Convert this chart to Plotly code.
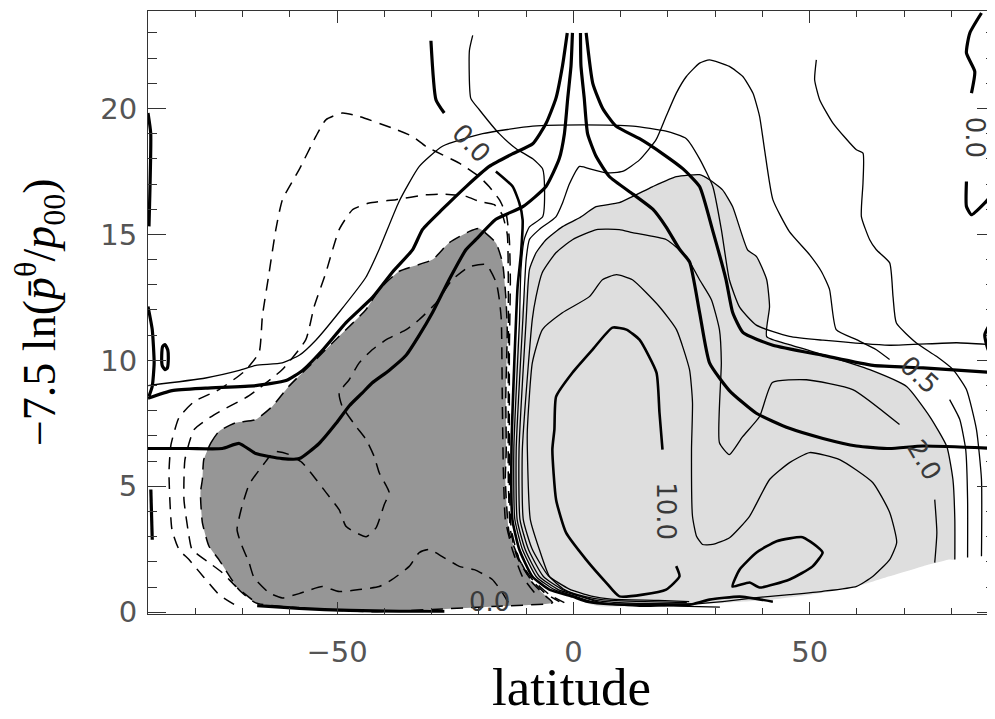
import plotly.graph_objects as go

# ---------------- data: latitude (deg) / height (-7.5 ln p/p00) --------
# light-gray shaded region (positive cell)
LG_LAT = [-9.3, -7.9, -5.8, -2.3, 1.3, 4.8, 9.7, 16.7, 21.8, 26.7, 28.8, 31.55, 33.7, 36.85, 38.75,
          40.9, 41.5, 40.9, 45.7, 54.2, 62.7, 70.5, 75.4, 79.0, 80.3, 80.7, 80.7, 79.6, 74.0, 66.9,
          59.9, 52.8, 42.2, 31.6, 24.6, 5.5, 2.7, -0.2, -3.7, -7.2, -10.8, -12.5, -12.9, -12.5, -11.4]
LG_H = [13.6, 14.27, 14.79, 15.31, 15.66, 16.1, 16.26, 16.89, 17.29, 17.37, 17.17, 16.77, 16.1, 14.39,
        14.12, 13.2, 12.13, 10.94, 10.62, 10.15, 9.63, 8.96, 7.77, 6.58, 5.27, 3.68, 2.09, 2.09, 1.83,
        1.43, 1.03, 0.77, 0.5, 0.37, 0.31, 0.24, 0.37, 0.63, 0.9, 1.3, 2.49, 3.81, 6.46, 9.23, 11.62]

# dark-gray shaded region (negative cell)
DG_LAT = [-78.2, -76.7, -75.0, -71.5, -67.2, -63.7, -60.2, -55.2, -49.6, -43.9, -41.1, -36.9, -29.8,
          -26.3, -22.0, -19.9, -16.4, -15.0, -14.3, -14.0, -14.3, -14.2, -14.4, -13.6, -11.4, -8.7,
          -5.8, -4.4, -15.7, -29.9, -42.6, -56.6, -67.2, -70.8, -75.0, -77.1, -78.5, -78.9, -78.5, -78.2]
DG_H = [6.06, 6.72, 7.18, 7.52, 7.65, 8.17, 8.97, 9.9, 10.95, 12.01, 12.81, 13.53, 14.0, 14.67, 15.12,
        15.23, 14.66, 13.88, 12.54, 11.22, 8.57, 6.46, 5.27, 3.16, 2.09, 1.18, 0.63, 0.38, 0.24, 0.11,
        0.02, 0.15, 0.37, 0.9, 2.09, 2.62, 3.56, 4.75, 5.27, 6.06]

# thick isentropes
A1_LAT = [-1.3, -2.3, -3.7, -5.8, -8.6, -12.9, -17.8, -22.7, -27.7, -31.9, -34.0, -38.3, -42.5, -48.1,
          -53.1, -57.3, -60.8, -67.2, -77.8, -84.9, -90.0]
A1_H = [23.0, 21.7, 20.4, 19.4, 18.6, 18.2, 17.7, 16.9, 16.0, 15.2, 14.4, 13.5, 12.5, 11.5, 10.4, 9.6,
        9.2, 9.0, 8.9, 8.8, 8.5]
A2_LAT = [-0.2, -0.5, -1.2, -1.9, -3.0, -5.8, -10.7, -16.4, -20.6, -22.7, -26.3, -29.8, -32.6, -35.4,
          -39.0, -42.6, -44.7, -47.4, -50.2, -53.8, -58.0, -61.6, -67.2, -70.7, -74.3, -81.3, -90.0]
A2_H = [23.0, 21.7, 20.4, 19.0, 18.0, 16.9, 16.1, 15.6, 14.8, 14.4, 13.2, 11.9, 11.0, 10.2, 9.6, 9.1,
        8.7, 8.2, 7.5, 6.7, 6.1, 6.1, 6.3, 6.7, 6.5, 6.5, 6.5]
A3_LAT = [1.5, 1.6, 2.3, 3.0, 4.8, 7.6, 12.6, 16.8, 19.6, 22.5, 24.6, 26.7, 28.8, 33.0, 38.7, 45.7,
          52.8, 59.9, 66.9, 74.0, 90.0]
A3_H = [23.0, 21.7, 20.4, 19.0, 18.1, 17.3, 16.6, 16.0, 15.3, 14.4, 13.9, 11.9, 9.9, 8.8, 7.9, 7.3,
        6.9, 6.6, 6.5, 6.6, 6.5]
A4_LAT = [2.7, 4.1, 6.2, 9.0, 14.0, 18.9, 23.2, 26.7, 29.4, 32.3, 33.7, 35.9, 42.2, 52.8, 63.4, 74.0, 90.0]
A4_H = [23.0, 21.0, 20.0, 19.3, 18.8, 18.2, 17.6, 16.9, 15.2, 13.2, 11.9, 11.1, 10.6, 10.2, 9.8, 9.7, 9.5]

# thin arch
ARCH_LAT = [-90.0, -77.8, -70.7, -67.2, -61.6, -58.0, -54.5, -49.6, -43.9, -41.1, -36.9, -32.6, -27.7,
            -19.2, -8.6, 2.0, 12.6, 19.6, 23.9, 26.7, 29.5, 31.3, 33.0, 35.2, 38.7, 45.7, 52.8, 66.9,
            81.1, 90.0]
ARCH_H = [9.0, 9.3, 9.6, 9.8, 9.9, 10.2, 10.8, 11.9, 13.3, 14.4, 16.3, 17.7, 18.5, 19.0, 19.3, 19.35,
          19.3, 19.1, 18.8, 18.0, 16.9, 15.2, 13.2, 12.1, 11.4, 10.95, 10.8, 10.6, 10.7, 10.6]

# positive (solid) contours of the circulation
S0_LAT = [-21.3, -22.0, -21.7, -19.9, -15.7, -12.1, -8.6, -6.5, -6.1, -6.5, -9.3, -10.4, -11.1, -11.4,
          -12.6, -12.4, -10.8, -7.8, -4.0, 0.9, 4.0, 10.0, 20.0, 31.0]
S0_H = [22.9, 22.3, 20.4, 19.95, 19.0, 18.4, 18.0, 17.6, 16.8, 15.7, 15.3, 14.8, 13.6, 11.6, 6.5, 3.7,
        2.5, 1.4, 0.9, 0.6, 0.42, 0.3, 0.25, 0.2]
S1_LAT = [25.0, 12.0, 5.0, 1.7, -3.2, -7.2, -10.2, -11.9, -12.1, -10.7, -10.0, -9.3, -7.2, -3.7, -2.3,
          -0.85, 1.3, 4.1, 6.9, 10.4, 14.0, 17.5, 19.6, 21.75, 23.9, 26.7, 28.8, 33.0, 35.85, 38.0,
          39.4, 40.45, 42.2, 45.7, 50.0, 52.5, 54.2, 55.6, 59.9, 64.1, 66.9]
S1_H = [0.33, 0.36, 0.46, 0.62, 0.9, 1.42, 2.49, 3.68, 6.46, 11.6, 14.0, 14.8, 15.2, 15.7, 16.25, 17.0,
        17.7, 17.57, 17.44, 17.5, 17.96, 18.76, 19.68, 20.6, 21.27, 21.8, 21.93, 21.67, 21.27, 20.6,
        19.68, 18.36, 16.38, 15.11, 14.19, 13.52, 12.81, 11.22, 10.82, 10.42, 10.03]
S1B_LAT = [79.6, 81.75, 83.0, 83.4, 83.4]
S1B_H = [8.44, 7.65, 6.46, 4.47, 2.17]
S2_LAT = [24.0, 15.0, 6.0, 2.5, -2.3, -6.35, -9.5, -11.3, -11.5, -10.0, -9.3, -7.9, -5.8, -2.3, 1.3,
          4.8, 9.7, 16.7, 21.8, 26.7, 28.8, 31.55, 33.7, 36.85, 38.75, 40.9, 41.5, 40.9, 45.7, 54.2,
          62.7, 70.5, 75.4, 79.0, 80.3, 80.7, 80.7]
S2_H = [0.38, 0.42, 0.5, 0.62, 0.9, 1.42, 2.49, 3.68, 6.46, 11.6, 13.6, 14.27, 14.79, 15.31, 15.66,
        16.1, 16.26, 16.89, 17.29, 17.37, 17.17, 16.77, 16.1, 14.39, 14.12, 13.2, 12.13, 10.94, 10.62,
        10.15, 9.63, 8.96, 7.77, 6.58, 5.27, 3.68, 2.09]
S3_LAT = [24.5, 18.0, 8.0, 3.8, -0.85, -5.3, -8.7, -10.6, -10.8, -8.7, -7.9, -6.6, -3.7, -0.2, 4.9,
          9.7, 12.5, 19.7, 23.9, 26.7, 29.2, 30.9, 31.3, 30.9, 33.0, 35.8, 39.4, 42.1, 49.3, 59.1, 69.0]
S3_H = [0.42, 0.47, 0.52, 0.64, 0.92, 1.45, 2.5, 3.68, 6.46, 11.62, 12.53, 13.48, 14.27, 14.79, 15.19,
        15.19, 15.07, 14.79, 14.12, 13.2, 12.41, 11.22, 9.91, 6.73, 6.26, 6.97, 7.77, 9.12, 9.23, 8.84,
        7.45]
S3B_LAT = [76.45, 76.9, 76.45]
S3B_H = [4.47, 3.16, 1.97]
S5_LAT = [24.57, 13.98, 6.57, 2.33, -1.91, -5.08, -7.2, -9.11, -9.74, -9.74, -8.68, -6.56, -2.33, 3.39,
          6.14, 9.11, 12.49, 18.21, 21.81, 24.57, 25.2, 24.99, 25.2, 26.05, 27.32, 29.44, 33.04, 37.27,
          41.51, 45.74, 49.98, 56.33, 63.32, 66.92, 68.4, 66.92, 63.32, 59.93, 52.73, 45.74, 38.75,
          31.55, 24.57]
S5_H = [0.31, 0.23, 0.35, 0.58, 0.9, 1.42, 2.49, 3.68, 6.46, 7.25, 9.91, 11.22, 11.89, 12.53, 13.2,
        13.4, 13.2, 12.13, 11.22, 9.63, 8.32, 6.46, 3.81, 3.02, 2.69, 2.69, 2.96, 3.81, 5.27, 5.94,
        6.34, 6.06, 5.15, 3.96, 2.77, 2.09, 1.42, 1.03, 0.83, 0.7, 0.58, 0.42, 0.31]
TEN_LAT = [18.85, 18.21, 17.58, 13.98, 11.22, 8.26, 4.02, -0.21, -3.66, -4.02, -4.45, -3.66, -1.55,
           2.69, 6.92, 9.74, 19.63, 22.45, 21.75]
TEN_H = [6.46, 7.93, 9.51, 10.82, 11.22, 11.3, 10.42, 9.51, 8.56, 7.25, 6.46, 4.47, 3.16, 2.09, 1.18,
         0.63, 0.9, 1.43, 1.83]
LOOP_LAT = [33.67, 37.27, 39.39, 45.74, 50.61, 52.73, 51.46, 48.49, 42.99, 38.75, 35.15, 33.67]
LOOP_H = [1.02, 1.18, 0.98, 1.3, 1.82, 2.37, 2.62, 2.98, 2.82, 2.37, 1.69, 1.02]
T_LAT = [-16.4, -12.85, -11.44, -10.74, -11.08, -11.8, -12.13, -13.1, -12.9, -11.44, -8.68, -5.08,
         -0.2, 3.0, 8.0, 20.0, 24.6, 28.8, 35.2, 42.2]
T_H = [17.5, 16.9, 16.25, 15.58, 14.26, 12.94, 11.62, 6.46, 3.68, 2.49, 1.42, 0.9, 0.62, 0.42, 0.32,
       0.3, 0.3, 0.5, 0.62, 0.42]
FAR_LAT = [51.4, 51.04, 52.1, 54.91, 59.87, 61.27, 61.27, 60.93, 62.69, 64.1, 66.92, 67.62, 68.34,
           72.57, 76.81, 80.33, 83.16, 85.28, 86.34, 86.34]
FAR_H = [21.93, 21.14, 20.35, 19.42, 18.36, 18.23, 17.04, 15.71, 14.79, 14.39, 13.87, 12.54, 11.48,
         10.69, 10.16, 9.63, 8.84, 7.25, 5.27, 2.22]

# small thick pieces near the edges
TR1_LAT = [86.34, 83.86, 83.16, 84.92, 84.22]
TR1_H = [23.79, 22.99, 22.2, 21.47, 20.61]
TR2_LAT = [83.16, 83.16, 84.22, 87.04, 90.0]
TR2_H = [17.1, 16.11, 15.78, 16.25, 16.9]
DIA_LAT = [90.0, 87.04, 88.1, 90.0]
DIA_H = [12.0, 11.02, 10.3, 10.62]
TL_LAT = [-30.14, -29.08, -27.32]
TL_H = [22.69, 20.35, 19.82]
LE1_LAT = [-90.0, -89.43, -89.79]
LE1_H = [19.82, 19.02, 15.32]
LE2_LAT = [-90.0, -89.1, -88.7, -89.1, -89.8]
LE2_H = [12.14, 11.22, 9.9, 8.97, 8.57]
LE3_LAT = [-89.4, -89.1]
LE3_H = [4.87, 2.88]
ELL_LAT = [-86.4, -85.8, -85.7, -85.9, -86.4, -87.0, -87.1, -86.9, -86.4]
ELL_H = [10.63, 10.4, 10.1, 9.7, 9.63, 9.8, 10.2, 10.55, 10.63]
BOT_LAT = [-66.9, -58.0, -47.4, -36.8, -27.3]
BOT_H = [0.26, 0.15, 0.07, 0.04, 0.04]

# negative (dashed) contours
D1_LAT = [-71.79, -74.97, -78.15, -81.33, -83.44, -84.93, -85.56, -85.14, -83.44, -80.26, -74.97,
          -69.68, -66.5, -65.8, -64.38, -62.96, -61.56, -58.03, -54.49, -52.37, -48.86, -45.32, -38.27,
          -34.03, -31.19, -27.68, -24.14, -19.91, -17.79, -15.67, -14.19, -13.55, -13.34, -13.55,
          -13.55, -13.55, -13.13, -11.44, -8.68, -5.08, -1.91]
D1_H = [0.31, 0.7, 1.38, 2.09, 2.49, 3.28, 5.54, 6.65, 7.73, 8.36, 8.84, 9.55, 10.31, 11.75, 13.47,
        15.19, 16.38, 17.57, 18.89, 19.55, 19.82, 19.68, 19.22, 18.89, 18.49, 18.16, 17.83, 17.29,
        16.89, 16.38, 15.78, 14.79, 13.2, 10.42, 7.65, 5.27, 3.28, 2.09, 1.3, 0.7, 0.38]
D2_LAT = [-67.98, -71.37, -74.34, -77.09, -80.69, -81.33, -82.39, -82.18, -80.26, -76.03, -68.61,
          -61.63, -56.61, -54.85, -52.37, -49.56, -46.74, -43.2, -37.55, -31.19, -27.68, -22.72,
          -19.91, -16.73, -15.04, -13.98, -13.77, -13.77, -13.77, -13.34, -11.86, -9.32, -6.14, -2.96]
D2_H = [0.5, 1.02, 1.58, 1.97, 2.49, 3.02, 4.47, 6.06, 7.25, 7.84, 8.6, 9.63, 10.82, 12.13, 13.48,
        15.19, 15.98, 16.25, 16.38, 16.57, 16.6, 16.51, 16.31, 16.18, 15.78, 14.99, 13.2, 8.44, 5.27,
        3.28, 2.17, 1.38, 0.78, 0.42]
D4_LAT = [-8.26, -10.8, -12.92, -14.4, -14.82, -15.04, -15.25, -15.67, -16.31, -18.42, -22.02, -25.62,
          -29.01, -32.61, -35.37, -39.6, -42.57, -45.32, -47.44, -49.56, -48.92, -45.96, -43.84, -42.14,
          -41.08, -38.97, -40.03, -41.72, -43.84, -48.07, -49.56, -52.31, -54.43, -57.39, -60.14,
          -63.32, -65.08, -68.61, -70.31, -71.16, -70.37, -68.61, -67.56, -64.38, -61.56, -58.03,
          -53.15, -49.56, -45.32, -41.08, -38.33, -34.73, -32.61, -30.49, -27.74, -24.14, -20.97,
          -17.15, -15.04, -13.55]
D4_H = [0.78, 1.42, 2.49, 3.68, 5.66, 8.44, 11.62, 12.41, 13.08, 13.8, 13.72, 13.2, 12.29, 11.62,
        11.22, 10.82, 10.42, 9.9, 9.23, 8.72, 8.17, 7.37, 6.85, 6.18, 5.54, 4.75, 4.27, 3.36, 3.0, 3.4,
        4.07, 4.75, 5.27, 5.94, 6.26, 6.38, 5.99, 5.07, 4.07, 3.28, 2.75, 1.96, 1.37, 0.77, 0.57, 0.74,
        1.02, 0.82, 0.9, 1.02, 1.3, 1.82, 2.37, 2.49, 2.21, 1.82, 1.69, 1.3, 0.78, 0.31]

# contour labels: text, lat, height, angle
LABEL_TEXT = ["0.0", "0.5", "2.0", "10.0", "0.0", "0.0"]
LABEL_LAT = [-21.6, 73.3, 74.3, 19.7, 85.0, -17.8]
LABEL_H = [18.64, 9.43, 6.06, 4.03, 18.87, 0.4]
LABEL_ANGLE = [46, 42, 60, 90, 90, 0]

X_TICKS = [-50, 0, 50]
Y_TICKS = [0, 5, 10, 15, 20]
X_TITLE = "latitude"
Y_TITLE = "−7.5 ln(<i>p̄</i><sup>θ</sup>/<i>p</i><sub>00</sub>)"

# ---------------- figure ----------------
fig = go.Figure()


def add_line(lat, h, width=1.2, dash="solid"):
    fig.add_trace(go.Scatter(x=lat, y=h, mode="lines", hoverinfo="skip", showlegend=False,
                             line=dict(color="black", width=width, dash=dash,
                                       shape="spline", smoothing=0.5)))


fig.add_trace(go.Scatter(x=LG_LAT, y=LG_H, mode="lines", fill="toself", fillcolor="#dedede",
                         line=dict(width=0, color="#dedede", shape="spline", smoothing=0.5),
                         hoverinfo="skip", showlegend=False))
fig.add_trace(go.Scatter(x=DG_LAT, y=DG_H, mode="lines", fill="toself", fillcolor="#969696",
                         line=dict(width=1.5, color="black", dash="12px,8px", shape="spline",
                                   smoothing=0.5),
                         hoverinfo="skip", showlegend=False))

for la, hh in [(D1_LAT, D1_H), (D2_LAT, D2_H), (D4_LAT, D4_H)]:
    add_line(la, hh, 1.5, "12px,8px")

for la, hh in [(ARCH_LAT, ARCH_H), (S0_LAT, S0_H), (S1_LAT, S1_H), (S1B_LAT, S1B_H),
               (S2_LAT, S2_H), (S3_LAT, S3_H), (S3B_LAT, S3B_H), (S5_LAT, S5_H), (FAR_LAT, FAR_H)]:
    add_line(la, hh, 1.3)

for la, hh in [(TEN_LAT, TEN_H), (LOOP_LAT, LOOP_H), (T_LAT, T_H)]:
    add_line(la, hh, 2.6)

for la, hh in [(A1_LAT, A1_H), (A2_LAT, A2_H), (A3_LAT, A3_H), (A4_LAT, A4_H), (TR1_LAT, TR1_H),
               (TR2_LAT, TR2_H), (DIA_LAT, DIA_H), (TL_LAT, TL_H), (LE1_LAT, LE1_H),
               (LE2_LAT, LE2_H), (LE3_LAT, LE3_H), (ELL_LAT, ELL_H), (BOT_LAT, BOT_H)]:
    add_line(la, hh, 3.2)

for t, la, hh, ang in zip(LABEL_TEXT, LABEL_LAT, LABEL_H, LABEL_ANGLE):
    fig.add_annotation(x=la, y=hh, text=t, textangle=ang, showarrow=False,
                       font=dict(family="DejaVu Sans", size=26, color="#3a3a3a"))

# axis titles
fig.add_annotation(xref="paper", yref="paper", x=0.5, y=-0.121, yanchor="middle", text=X_TITLE,
                   showarrow=False, font=dict(family="Liberation Serif", size=53, color="black"))
fig.add_annotation(xref="paper", yref="paper", x=-0.128, y=0.5, xanchor="center", text=Y_TITLE,
                   textangle=-90, showarrow=False,
                   font=dict(family="Liberation Serif", size=46, color="black"))

axis_common = dict(showgrid=False, zeroline=False, showline=True, linecolor="#333333", linewidth=1,
                   mirror="ticks", ticks="inside", tickcolor="#333333", tickwidth=1, automargin=False,
                   tickfont=dict(family="DejaVu Sans", size=29, color="#555555"))

fig.update_xaxes(range=[-90, 89.2], tickvals=X_TICKS, ticklen=12, ticklabelstandoff=12,
                 minor=dict(ticks="inside", dtick=10, tick0=0, ticklen=6, tickcolor="#333333"),
                 **axis_common)
fig.update_yaxes(range=[-0.07, 23.87], tickvals=Y_TICKS, ticklen=18, ticklabelstandoff=4,
                 minor=dict(ticks="inside", dtick=1, tick0=0, ticklen=9, tickcolor="#333333"),
                 **axis_common)

# the page body adds an 8px margin, so the figure is drawn 8px smaller than the window
fig.update_layout(width=987, height=711, margin=dict(l=140, r=0, t=3, b=105),
                  plot_bgcolor="white", paper_bgcolor="white", showlegend=False)

fig.write_html("out.html")
